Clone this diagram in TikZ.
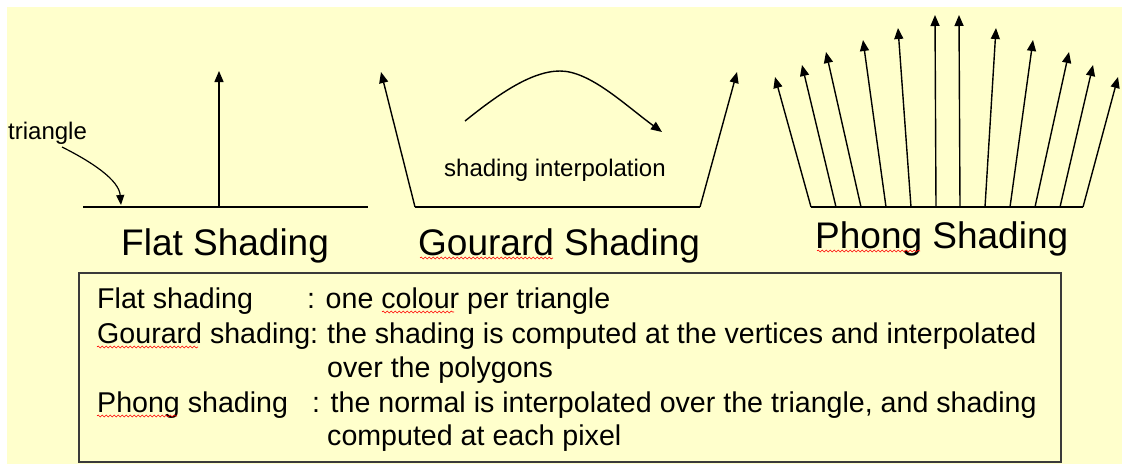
\documentclass[tikz,border=0pt]{standalone}
\usepackage{fontspec}
\setmainfont{Liberation Sans}
\usetikzlibrary{arrows.meta,decorations.pathmorphing}
\definecolor{bgyellow}{HTML}{FFFFCC}
\definecolor{boxgray}{HTML}{3A3A3A}
\begin{document}
\begin{tikzpicture}[x=1pt,y=-1pt,
  normalarrow/.style={line width=1.4pt,-{Triangle[length=11pt,width=9pt]}},
  groundline/.style={line width=1.4pt},
  ttl/.style={anchor=base west,inner sep=0pt,font=\fontsize{37}{41}\selectfont},
  lbl/.style={anchor=base west,inner sep=0pt,font=\fontsize{24}{28}\selectfont},
  desc/.style={anchor=base west,inner sep=0pt,font=\fontsize{28.6}{32}\selectfont},
  spell/.style={draw=red,line width=0.6pt,decorate,decoration={snake,segment length=4pt,amplitude=1pt}}]
% background
\fill[white] (0,0) rectangle (1122,464);
\fill[bgyellow] (7,7) rectangle (1122,464);
\useasboundingbox (0,0) rectangle (1122,464);

% ---------- Flat shading ----------
\coordinate (fl) at (83,207);
\coordinate (fr) at (368,207);
\draw[groundline] (fl) -- (fr);
\coordinate (fb) at (219,207);
\coordinate (ft) at (219,71);
\draw[normalarrow] (fb) -- (ft);
\node[lbl] (tri) at (8,139) {triangle};
\coordinate (tris) at (62,147);
\coordinate (trie) at (121,205);
\draw[line width=1.2pt,-{Triangle[length=10pt,width=8pt]}] (tris) .. controls (92,162) and (119,180) .. (trie);
\node[ttl] (flat) at (121,255) {Flat Shading};

% ---------- Gourard shading ----------
\coordinate (gl) at (415,207);
\coordinate (gr) at (700,207);
\draw[groundline] (gl) -- (gr);
\coordinate (glt) at (381,72);
\coordinate (grt) at (737,72);
\draw[normalarrow] (gl) -- (glt);
\draw[normalarrow] (gr) -- (grt);
\coordinate (cs) at (465,121);
\coordinate (cp) at (560,71);
\coordinate (ce) at (662,132);
\draw[normalarrow] (cs) .. controls (495,97) and (530,71) .. (cp) .. controls (590,71) and (625,105) .. (ce);
\node[lbl] (interp) at (444,176) {shading interpolation};
\node[ttl] (gour) at (418,255) {Gourard Shading};

% ---------- Phong shading ----------
\coordinate (pl) at (811,207);
\coordinate (pr) at (1083,207);
\draw[groundline] (pl) -- (pr);
\foreach \i/\bx/\tx/\ty in {1/811/775/77, 2/836/802/65, 3/861/826/52, 4/886/863/40,
    5/911/898/28, 6/936/935/15, 7/960/959/15, 8/985/996/28, 9/1010/1033/40,
    10/1035/1069/52, 11/1060/1093/65, 12/1083/1118/77}{
  \coordinate (pb\i) at (\bx,207);
  \coordinate (pt\i) at (\tx,\ty);
  \draw[normalarrow] (pb\i) -- (pt\i);
}
\node[ttl] (phong) at (815,248) {Phong Shading};

% spell-check underlines
\draw[spell] (420,258) -- (553,258);
\draw[spell] (817,251) -- (920,251);

% ---------- description box ----------
\draw[boxgray,line width=1.5pt] (79,273) rectangle (1061,462);
\node[desc] (d1a) at (97,308) {Flat shading};
\node[desc] (d1b) at (307,308) {: one colour per triangle};
\node[desc] (d2a) at (97,343) {Gourard shading:};
\node[desc] (d2b) at (327,343) {the shading is computed at the vertices and interpolated};
\node[desc] (d3)  at (327,377) {over the polygons};
\node[desc] (d4a) at (97,412) {Phong shading};
\node[desc] (d4b) at (312,412) {: the normal is interpolated over the triangle, and shading};
\node[desc] (d5)  at (327,445) {computed at each pixel};
\draw[spell] (382,312) -- (454,312);
\draw[spell] (97,347) -- (198,347);
\draw[spell] (97,416) -- (177,416);
\end{tikzpicture}
\end{document}
